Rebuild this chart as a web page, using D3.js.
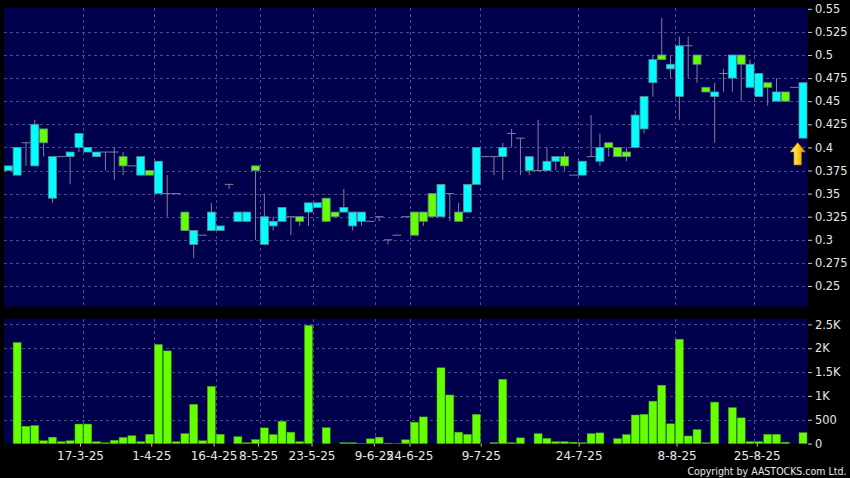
<!DOCTYPE html>
<html><head><meta charset="utf-8">
<script src="https://cdn.jsdelivr.net/npm/d3@7"></script>
<style>html,body{margin:0;padding:0;background:#000;overflow:hidden}svg{display:block}text{font-family:"DejaVu Sans",sans-serif;fill:#e8e8e8}</style>
</head><body><svg id="c" width="850" height="478"></svg>
<script>
const open  = [.38,.40,.405,.425,.405,.39,.39,.395,.415,.40,.395,.395,.395,.38,.38,.39,.37,.385,.35,.35,.31,.31,.305,.33,.315,.36,.33,.33,.375,.325,
 .32,.335,.325,.32,.34,.34,.32,.325,.335,.33,.33,.32,.325,.30,.305,.325,.305,.32,.325,.36,.35,.32,.36,.40,.39,.39,.40,.415,.41,.39,
 .375,.385,.39,.38,.37,.385,.39,.40,.40,.39,.39,.435,.455,.495,.495,.49,.51,.51,.49,.46,.46,.48,.50,.49,.49,.48,.465,.46,.45,.465,.47];
const close = [.375,.37,.405,.38,.42,.345,.39,.39,.40,.395,.39,.395,.395,.39,.38,.37,.375,.35,.35,.35,.33,.295,.305,.31,.31,.36,.32,.32,.38,.295,
 .315,.32,.325,.325,.33,.335,.345,.33,.33,.315,.32,.32,.325,.30,.305,.325,.33,.33,.35,.325,.35,.33,.33,.36,.39,.39,.39,.415,.41,.375,
 .375,.375,.385,.39,.37,.37,.39,.385,.405,.40,.395,.40,.42,.47,.50,.485,.455,.51,.50,.465,.455,.48,.475,.50,.465,.455,.47,.45,.46,.465,.41];
const high  = [.38,.40,.405,.43,.42,.39,.39,.395,.415,.40,.395,.395,.40,.395,.38,.39,.375,.385,.37,.35,.33,.31,.305,.34,.315,.36,.33,.33,.38,.35,
 .325,.335,.325,.325,.34,.34,.345,.33,.355,.33,.33,.32,.325,.30,.305,.325,.33,.33,.35,.36,.35,.34,.36,.40,.39,.39,.405,.42,.41,.39,
 .43,.40,.39,.395,.37,.385,.435,.415,.405,.40,.40,.44,.455,.50,.54,.50,.52,.52,.50,.465,.47,.485,.50,.50,.495,.48,.47,.475,.46,.465,.47];
const low   = [.375,.37,.38,.38,.39,.34,.39,.36,.395,.395,.39,.375,.365,.37,.38,.37,.37,.35,.325,.35,.31,.28,.305,.31,.31,.355,.32,.32,.30,.295,
 .31,.32,.305,.315,.315,.335,.32,.325,.33,.31,.315,.32,.32,.295,.305,.325,.305,.315,.325,.325,.32,.32,.33,.36,.39,.37,.365,.40,.37,.37,
 .375,.375,.375,.375,.37,.37,.39,.38,.39,.39,.385,.40,.415,.455,.495,.475,.43,.475,.47,.46,.405,.46,.46,.45,.465,.455,.445,.45,.45,.465,.41];
const volume = [0,2120,365,380,60,135,40,60,410,410,40,20,70,130,165,40,195,2080,1945,40,210,825,60,1200,195,0,145,20,85,330,190,470,
 240,40,2480,0,335,0,20,20,5,100,135,10,5,80,450,560,0,1590,1020,240,195,615,0,20,1350,20,120,0,210,110,40,
 40,30,20,210,225,0,105,190,600,615,890,1225,415,2190,160,295,20,870,0,755,540,40,40,195,195,30,0,230];
const tickIndex  = [8,16,23,28,34,41,45,53,64,75,84];
const tickLabels = ["17-3-25","1-4-25","16-4-25","8-5-25","23-5-25","9-6-25","24-6-25","9-7-25","24-7-25","8-8-25","25-8-25"];
const priceTicks = [.25,.275,.3,.325,.35,.375,.4,.425,.45,.475,.5,.525,.55];
const volumeTicks = [0,500,1000,1500,2000,2500];
const fmtVol = v => v===0 ? "0" : v<1000 ? String(v) : (v/1000)+"K";

const cfg = {L:4,R:807.5,pT:8,pB:306.7,vT:318.7,vB:443.6,bg:"#00004c",grid:"#4c4c88",up:"#66ff00",down:"#00ffff",edge:"#5f8a90",wick:"#80809c"};
const svg = d3.select("#c");
const idx = d3.range(open.length);
const x = d3.scaleLinear().domain([0,90]).range([8.3,803]);
const xTick = d3.scaleLinear().domain([0,90]).range([8.76,810.2]);
const y = d3.scaleLinear().domain([.25,.55]).range([286,8.8]);
const yv = d3.scaleLinear().domain([0,2500]).range([443.6,324.4]);
const bw = 8;

svg.append("rect").attr("width",850).attr("height",478).attr("fill","#000");
[[cfg.pT,cfg.pB],[cfg.vT,cfg.vB]].forEach(([a,b])=>svg.append("rect").attr("x",cfg.L).attr("y",a).attr("width",cfg.R-cfg.L).attr("height",b-a).attr("fill",cfg.bg));

const gridAttrs = s => s.attr("stroke",cfg.grid).attr("stroke-width",1).attr("stroke-dasharray","3,3").attr("shape-rendering","crispEdges");
const gridG = svg.append("g");
gridG.selectAll(".hp").data(priceTicks.slice(0,-1)).join("line").attr("x1",cfg.L).attr("x2",cfg.R).attr("y1",d=>Math.round(y(d))+.5).attr("y2",d=>Math.round(y(d))+.5).call(gridAttrs);
gridG.selectAll(".hv").data(volumeTicks.slice(1)).join("line").attr("x1",cfg.L).attr("x2",cfg.R).attr("y1",d=>Math.round(yv(d))+.5).attr("y2",d=>Math.round(yv(d))+.5).call(gridAttrs);
[[cfg.pT,cfg.pB],[cfg.vT,cfg.vB]].forEach(([a,b])=>{
  gridG.append("g").selectAll("line").data(tickIndex).join("line").attr("y1",a).attr("y2",b)
   .attr("x1",d=>Math.round(x(d)+4.2)+.5).attr("x2",d=>Math.round(x(d)+4.2)+.5).call(gridAttrs);
});

// volume bars
svg.append("g").selectAll("rect").data(idx.filter(i=>volume[i]>0)).join("rect")
  .attr("x",i=>x(i)-bw/2).attr("width",bw)
  .attr("y",i=>yv(volume[i])).attr("height",i=>yv(0)-yv(volume[i]))
  .attr("fill",cfg.up).attr("stroke","#3c9a18").attr("stroke-width",.5);

// candles
const g = svg.append("g");
g.selectAll(".wick").data(idx).join("line").attr("x1",i=>x(i)).attr("x2",i=>x(i))
  .attr("y1",i=>y(high[i])).attr("y2",i=>y(low[i])).attr("stroke",cfg.wick).attr("stroke-width",1);
const isDoji = i=>open[i]===close[i];
g.selectAll(".doji").data(idx.filter(isDoji)).join("line").attr("x1",i=>x(i)-4.3).attr("x2",i=>x(i)+4.3)
  .attr("y1",i=>y(open[i])).attr("y2",i=>y(open[i])).attr("stroke",cfg.wick).attr("stroke-width",1);
g.selectAll(".body").data(idx.filter(i=>!isDoji(i))).join("rect")
  .attr("x",i=>x(i)-bw/2).attr("width",bw)
  .attr("y",i=>y(Math.max(open[i],close[i]))).attr("height",i=>Math.abs(y(open[i])-y(close[i])))
  .attr("fill",i=>close[i]>open[i]?cfg.up:cfg.down).attr("stroke",cfg.edge).attr("stroke-width",.8);

// arrow
const defs = svg.append("defs");
const lg = defs.append("linearGradient").attr("id","ag").attr("x1",0).attr("x2",1).attr("y1",0).attr("y2",0);
lg.append("stop").attr("offset",0).attr("stop-color","#fff2a0");
lg.append("stop").attr("offset",.5).attr("stop-color","#ffd21e");
lg.append("stop").attr("offset",1).attr("stop-color","#d98a00");
svg.append("path").attr("transform",`translate(${x(90)-5.3},142.5)`)
  .attr("d","M0,0 L7.7,9.5 L3.8,9.5 L3.8,22.5 L-3.8,22.5 L-3.8,9.5 L-7.7,9.5 Z")
  .attr("fill","url(#ag)").attr("stroke","#a06a10").attr("stroke-width",.6);

// axes
const styleAxis = s=>{s.select(".domain").remove();s.selectAll("line").attr("stroke","#c8c8c8");s.selectAll("text").style("font-size","11.4px").attr("fill","#e8e8e8");};
svg.append("g").attr("transform",`translate(${cfg.R+.5},0)`).call(d3.axisRight(y).tickValues(priceTicks).tickFormat(d=>String(+d.toFixed(3))).tickSize(4).tickPadding(3)).call(styleAxis);
svg.append("g").attr("transform",`translate(${cfg.R+.5},0)`).call(d3.axisRight(yv).tickValues(volumeTicks).tickFormat(fmtVol).tickSize(4).tickPadding(3)).call(styleAxis);
const ax2 = svg.append("g").attr("transform",`translate(0,${cfg.vB})`)
  .call(d3.axisBottom(d3.scaleOrdinal().domain(tickIndex).range(tickIndex.map(i=>xTick(i)))).tickFormat((d,k)=>tickLabels[k]).tickSize(3).tickPadding(5)).call(styleAxis);
ax2.selectAll("text").style("font-size","12px");

svg.append("text").attr("x",846.5).attr("y",474.5).attr("text-anchor","end").style("font-family","'DejaVu Sans Condensed','DejaVu Sans',sans-serif").style("font-stretch","condensed").style("font-size","10.5px").text("Copyright by AASTOCKS.com Ltd.");
</script></body></html>
